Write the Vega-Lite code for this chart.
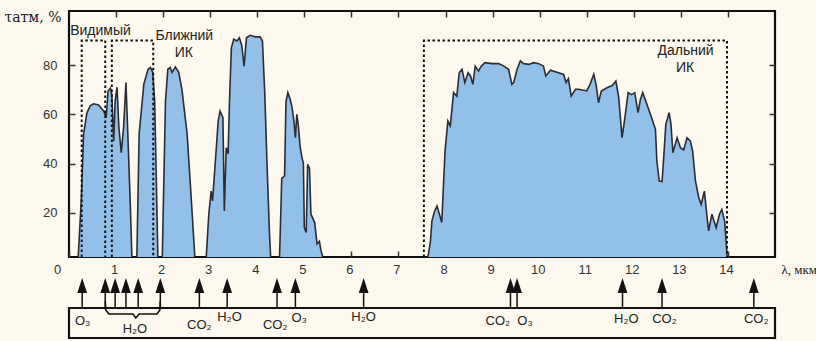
{
  "$schema": "https://vega.github.io/schema/vega-lite/v6.json",
  "background": "#fdf9ef",
  "padding": {"left": 2, "top": 8, "right": 0, "bottom": 2},
  "bounds": "flush",
  "spacing": 51,
  "config": {"view": {"stroke": "#111", "strokeWidth": 2.2}, "font": "Liberation Sans"},
  "datasets": {
    "trans": [
      {"x": 0, "y": 0}, {"x": 0.19, "y": 0}, {"x": 0.26, "y": 24.8}, {"x": 0.31, "y": 52}, {"x": 0.38, "y": 60.5}, {"x": 0.45, "y": 63.5}, {"x": 0.52, "y": 64.3}, {"x": 0.63, "y": 63.8}, {"x": 0.74, "y": 61.3}, {"x": 0.79, "y": 58.6},
      {"x": 0.83, "y": 69.5}, {"x": 0.88, "y": 70.6}, {"x": 0.91, "y": 68}, {"x": 0.95, "y": 49}, {"x": 0.98, "y": 65.4}, {"x": 1.02, "y": 71}, {"x": 1.06, "y": 54.6}, {"x": 1.11, "y": 44.4}, {"x": 1.16, "y": 54.6}, {"x": 1.21, "y": 72.9}, {"x": 1.25, "y": 52}, {"x": 1.30, "y": 24.8}, {"x": 1.34, "y": 0},
      {"x": 1.44, "y": 0}, {"x": 1.49, "y": 52}, {"x": 1.59, "y": 72.3}, {"x": 1.68, "y": 78.3}, {"x": 1.73, "y": 79}, {"x": 1.78, "y": 77}, {"x": 1.82, "y": 65.4}, {"x": 1.85, "y": 38.3}, {"x": 1.89, "y": 0},
      {"x": 1.98, "y": 0}, {"x": 2.05, "y": 65.4}, {"x": 2.10, "y": 78.3}, {"x": 2.15, "y": 79}, {"x": 2.19, "y": 77}, {"x": 2.26, "y": 79.2}, {"x": 2.33, "y": 77.2}, {"x": 2.40, "y": 70}, {"x": 2.51, "y": 52}, {"x": 2.59, "y": 28}, {"x": 2.68, "y": 0},
      {"x": 2.91, "y": 0}, {"x": 2.97, "y": 19.4}, {"x": 3.02, "y": 28.8}, {"x": 3.05, "y": 24.8}, {"x": 3.11, "y": 41}, {"x": 3.17, "y": 57.3}, {"x": 3.21, "y": 61.3}, {"x": 3.27, "y": 58.6}, {"x": 3.30, "y": 20.7}, {"x": 3.34, "y": 46.4}, {"x": 3.38, "y": 44}, {"x": 3.41, "y": 65.4}, {"x": 3.45, "y": 87}, {"x": 3.50, "y": 90.5}, {"x": 3.57, "y": 89.8}, {"x": 3.62, "y": 91.1}, {"x": 3.67, "y": 88}, {"x": 3.72, "y": 79.6}, {"x": 3.77, "y": 91.1}, {"x": 3.85, "y": 92.1}, {"x": 3.96, "y": 91.5}, {"x": 4.06, "y": 91.5}, {"x": 4.11, "y": 89.8}, {"x": 4.16, "y": 68.3}, {"x": 4.21, "y": 38.3}, {"x": 4.26, "y": 11.3}, {"x": 4.29, "y": 0},
      {"x": 4.47, "y": 0}, {"x": 4.50, "y": 20}, {"x": 4.52, "y": 34}, {"x": 4.58, "y": 35}, {"x": 4.61, "y": 65}, {"x": 4.65, "y": 68.8}, {"x": 4.70, "y": 66}, {"x": 4.74, "y": 62.7}, {"x": 4.78, "y": 57}, {"x": 4.81, "y": 50.5}, {"x": 4.84, "y": 60}, {"x": 4.87, "y": 56}, {"x": 4.91, "y": 47}, {"x": 4.95, "y": 42.4}, {"x": 4.98, "y": 40}, {"x": 5.00, "y": 14}, {"x": 5.04, "y": 12}, {"x": 5.07, "y": 39.7}, {"x": 5.11, "y": 38}, {"x": 5.14, "y": 19.4}, {"x": 5.22, "y": 16}, {"x": 5.27, "y": 7.3}, {"x": 5.32, "y": 8.4}, {"x": 5.35, "y": 5}, {"x": 5.42, "y": 0},
      {"x": 7.61, "y": 0}, {"x": 7.68, "y": 8.5}, {"x": 7.71, "y": 16.6}, {"x": 7.77, "y": 20.7}, {"x": 7.82, "y": 22.7}, {"x": 7.87, "y": 19.4}, {"x": 7.92, "y": 16}, {"x": 7.96, "y": 32.9}, {"x": 7.99, "y": 45.1}, {"x": 8.05, "y": 57.3}, {"x": 8.10, "y": 55.3}, {"x": 8.14, "y": 62.7}, {"x": 8.17, "y": 68.8}, {"x": 8.24, "y": 67.4}, {"x": 8.29, "y": 76.9}, {"x": 8.35, "y": 78.3}, {"x": 8.41, "y": 72.9}, {"x": 8.48, "y": 76.9}, {"x": 8.53, "y": 75.6}, {"x": 8.58, "y": 72.2}, {"x": 8.63, "y": 79.6}, {"x": 8.70, "y": 77.6}, {"x": 8.76, "y": 79.6}, {"x": 8.84, "y": 81}, {"x": 8.99, "y": 80.6}, {"x": 9.13, "y": 80.6}, {"x": 9.24, "y": 79.6}, {"x": 9.34, "y": 78.3}, {"x": 9.41, "y": 72.2}, {"x": 9.45, "y": 73}, {"x": 9.52, "y": 78.3}, {"x": 9.59, "y": 81.7}, {"x": 9.66, "y": 80.6}, {"x": 9.77, "y": 80.3}, {"x": 9.87, "y": 81}, {"x": 9.98, "y": 80.6}, {"x": 10.08, "y": 79.6}, {"x": 10.13, "y": 75.6}, {"x": 10.23, "y": 77.9}, {"x": 10.40, "y": 76.9}, {"x": 10.51, "y": 76.2}, {"x": 10.56, "y": 72.9}, {"x": 10.61, "y": 74.5}, {"x": 10.67, "y": 67.4}, {"x": 10.76, "y": 70.2}, {"x": 10.83, "y": 70.2}, {"x": 11.00, "y": 69.5}, {"x": 11.07, "y": 72.2}, {"x": 11.15, "y": 76.3}, {"x": 11.20, "y": 72}, {"x": 11.25, "y": 64.7}, {"x": 11.31, "y": 69.5}, {"x": 11.43, "y": 70.8}, {"x": 11.54, "y": 71.7}, {"x": 11.62, "y": 73.5}, {"x": 11.68, "y": 66.8}, {"x": 11.75, "y": 50.5}, {"x": 11.81, "y": 58.6}, {"x": 11.88, "y": 68.8}, {"x": 11.95, "y": 68}, {"x": 12.02, "y": 68.8}, {"x": 12.09, "y": 60.7}, {"x": 12.14, "y": 66}, {"x": 12.19, "y": 68.8}, {"x": 12.28, "y": 64}, {"x": 12.39, "y": 58}, {"x": 12.46, "y": 53.9}, {"x": 12.49, "y": 41}, {"x": 12.54, "y": 32.9}, {"x": 12.60, "y": 32.7}, {"x": 12.64, "y": 43.7}, {"x": 12.68, "y": 55.9}, {"x": 12.75, "y": 60.7}, {"x": 12.79, "y": 56}, {"x": 12.83, "y": 44.4}, {"x": 12.92, "y": 50.5}, {"x": 12.99, "y": 46.4}, {"x": 13.06, "y": 45.5}, {"x": 13.13, "y": 50.5}, {"x": 13.20, "y": 49.2}, {"x": 13.25, "y": 45.1}, {"x": 13.31, "y": 32.9}, {"x": 13.38, "y": 26.1}, {"x": 13.43, "y": 23.4}, {"x": 13.50, "y": 28.8}, {"x": 13.55, "y": 19.4}, {"x": 13.59, "y": 12.6}, {"x": 13.66, "y": 19.4}, {"x": 13.75, "y": 13.9}, {"x": 13.82, "y": 19.4}, {"x": 13.87, "y": 21.4}, {"x": 13.93, "y": 16.6}, {"x": 13.96, "y": 8.5}, {"x": 13.99, "y": 0}, {"x": 15, "y": 0}
    ],
    "boxes": [
      {"box": "V", "i": 0, "x": 0.27, "y": 0}, {"box": "V", "i": 1, "x": 0.27, "y": 90}, {"box": "V", "i": 2, "x": 0.77, "y": 90}, {"box": "V", "i": 3, "x": 0.77, "y": 0},
      {"box": "N", "i": 0, "x": 0.91, "y": 0}, {"box": "N", "i": 1, "x": 0.91, "y": 90}, {"box": "N", "i": 2, "x": 1.79, "y": 90}, {"box": "N", "i": 3, "x": 1.79, "y": 0},
      {"box": "F", "i": 0, "x": 7.54, "y": 0}, {"box": "F", "i": 1, "x": 7.54, "y": 90}, {"box": "F", "i": 2, "x": 13.98, "y": 90}, {"box": "F", "i": 3, "x": 13.98, "y": 0}
    ],
    "labels": [
      {"x": 0.67, "y": 94, "t": "Видимый"},
      {"x": 2.45, "y": 91.8, "t": "Ближний"},
      {"x": 2.44, "y": 85, "t": "ИК"},
      {"x": 13.1, "y": 85.7, "t": "Дальний"},
      {"x": 13.09, "y": 78.8, "t": "ИК"}
    ],
    "arrows": [
      {"x": 0.28}, {"x": 0.77}, {"x": 0.98}, {"x": 1.21}, {"x": 1.47}, {"x": 1.94}, {"x": 2.77}, {"x": 3.36}, {"x": 4.42}, {"x": 4.81}, {"x": 6.26}, {"x": 9.38}, {"x": 9.52}, {"x": 11.76}, {"x": 12.60}, {"x": 14.55}
    ],
    "brace": [
      {"i": 0, "x": 0.77, "y": 37}, {"i": 1, "x": 0.78, "y": 28}, {"i": 2, "x": 0.85, "y": 24}, {"i": 3, "x": 1.36, "y": 24}, {"i": 4, "x": 1.42, "y": 20}, {"i": 5, "x": 1.49, "y": 24}, {"i": 6, "x": 1.87, "y": 24}, {"i": 7, "x": 1.93, "y": 28}, {"i": 8, "x": 1.94, "y": 37}
    ],
    "gases": [
      {"x": 0.29, "y": 17, "t": "O₃"}, {"x": 1.40, "y": 9, "t": "H₂O"}, {"x": 2.77, "y": 13, "t": "CO₂"}, {"x": 3.41, "y": 21, "t": "H₂O"}, {"x": 4.38, "y": 13, "t": "CO₂"}, {"x": 4.89, "y": 20, "t": "O₃"}, {"x": 6.26, "y": 21, "t": "H₂O"}, {"x": 9.11, "y": 17, "t": "CO₂"}, {"x": 9.69, "y": 17, "t": "O₃"}, {"x": 11.84, "y": 19, "t": "H₂O"}, {"x": 12.65, "y": 19, "t": "CO₂"}, {"x": 14.6, "y": 19, "t": "CO₂"}
    ]
  },
  "vconcat": [
    {
      "width": 706,
      "height": 246,
      "resolve": {"axis": {"x": "independent", "y": "independent"}},
      "layer": [
        {
          "data": {"name": "trans"},
          "mark": {"type": "area", "color": "#93c0e8", "opacity": 1, "fillOpacity": 1, "clip": true, "line": {"color": "#2c2c34", "strokeWidth": 1.6, "clip": true}},
          "encoding": {
            "x": {"field": "x", "type": "quantitative", "scale": {"domain": [0, 15], "nice": false},
              "axis": {"values": [0,1,2,3,4,5,6,7,8,9,10,11,12,13,14], "domain": false, "grid": false, "tickSize": -6, "tickWidth": 1.5, "tickColor": "#333", "labelFontSize": 13, "labelColor": "#333", "labelPadding": 12, "labelFlush": false, "labelOffset": {"condition": {"test": "datum.value == 0", "value": -12}, "value": -2},
                "title": "λ, мкм", "titleFont": "Liberation Serif", "titleFontSize": 13, "titleFontWeight": "normal", "titleColor": "#222", "titleAlign": "left", "titleBaseline": "middle", "titleX": 712, "titleY": 12}},
            "y": {"field": "y", "type": "quantitative", "scale": {"domain": [2, 102], "nice": false, "zero": false},
              "axis": {"values": [20, 40, 60, 80], "domain": false, "grid": false, "tickSize": -6, "tickWidth": 1.5, "tickColor": "#333", "labelFontSize": 13, "labelColor": "#333", "labelPadding": 18,
                "title": "τатм, %", "titleFont": "DejaVu Serif", "titleFontSize": 14, "titleFontWeight": "normal", "titleColor": "#222", "titleAngle": 0, "titleAlign": "left", "titleBaseline": "middle", "titleX": -65, "titleY": 6}}
          }
        },
        {
          "data": {"name": "boxes"},
          "mark": {"type": "line", "color": "#111", "strokeWidth": 2, "strokeDash": [2.5, 2.5], "clip": true},
          "encoding": {
            "x": {"field": "x", "type": "quantitative", "scale": {"domain": [0, 15], "nice": false},
              "axis": {"orient": "top", "values": [1,2,3,4,5,6,7,8,9,10,11,12,13,14], "labels": false, "domain": false, "grid": false, "tickSize": -6, "tickWidth": 1.5, "tickColor": "#333", "title": null}},
            "y": {"field": "y", "type": "quantitative", "scale": {"domain": [2, 102], "nice": false, "zero": false},
              "axis": {"orient": "right", "values": [20, 40, 60, 80], "labels": false, "domain": false, "grid": false, "tickSize": -6, "tickWidth": 1.5, "tickColor": "#333", "title": null}},
            "detail": {"field": "box"},
            "order": {"field": "i"}
          }
        },
        {
          "data": {"name": "labels"},
          "mark": {"type": "text", "fontSize": 14, "color": "#222", "font": "Liberation Sans"},
          "encoding": {
            "x": {"field": "x", "type": "quantitative", "scale": {"domain": [0, 15], "nice": false}, "axis": null},
            "y": {"field": "y", "type": "quantitative", "scale": {"domain": [2, 102], "nice": false, "zero": false}, "axis": null},
            "text": {"field": "t"}
          }
        }
      ]
    },
    {
      "width": 706,
      "height": 30,
      "layer": [
        {
          "data": {"name": "arrows"},
          "mark": {"type": "rule", "color": "#111", "strokeWidth": 1.5},
          "encoding": {
            "x": {"field": "x", "type": "quantitative", "scale": {"domain": [0, 15], "nice": false}, "axis": null},
            "y": {"datum": 30, "type": "quantitative", "scale": {"domain": [0, 30], "nice": false}, "axis": null},
            "y2": {"datum": 50}
          }
        },
        {
          "data": {"name": "arrows"},
          "mark": {"type": "point", "filled": true, "color": "#111", "opacity": 1, "shape": "M0,-1L-0.65,1L0.65,1Z", "size": 225},
          "encoding": {
            "x": {"field": "x", "type": "quantitative", "scale": {"domain": [0, 15], "nice": false}, "axis": null},
            "y": {"datum": 52.5, "type": "quantitative", "scale": {"domain": [0, 30], "nice": false}, "axis": null}
          }
        },
        {
          "data": {"name": "brace"},
          "mark": {"type": "line", "color": "#111", "strokeWidth": 1.6},
          "encoding": {
            "x": {"field": "x", "type": "quantitative", "scale": {"domain": [0, 15], "nice": false}, "axis": null},
            "y": {"field": "y", "type": "quantitative", "scale": {"domain": [0, 30], "nice": false}, "axis": null},
            "order": {"field": "i"}
          }
        },
        {
          "data": {"name": "gases"},
          "mark": {"type": "text", "fontSize": 13, "color": "#222", "font": "Liberation Sans"},
          "encoding": {
            "x": {"field": "x", "type": "quantitative", "scale": {"domain": [0, 15], "nice": false}, "axis": null},
            "y": {"field": "y", "type": "quantitative", "scale": {"domain": [0, 30], "nice": false}, "axis": null},
            "text": {"field": "t"}
          }
        }
      ]
    }
  ]
}
